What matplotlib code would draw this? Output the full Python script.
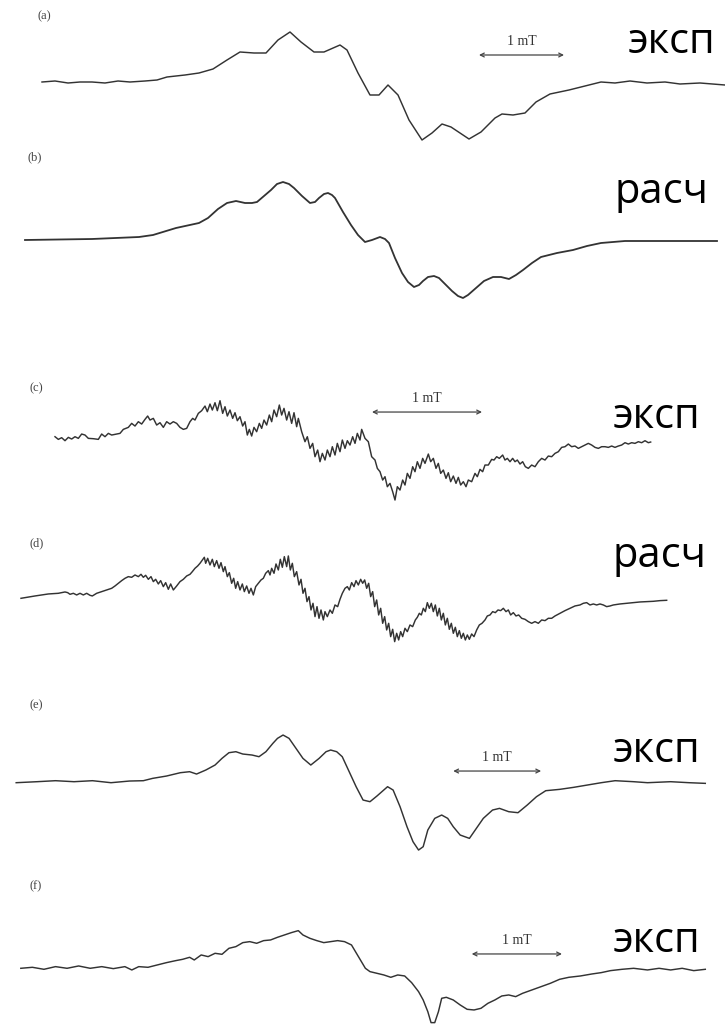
import numpy as np
import matplotlib.pyplot as plt

# EPR traces; field and signal in arbitrary units per panel
a_field = [42, 55, 68, 80, 92, 105, 118, 130, 145, 157, 167, 185, 199, 213, 227, 240, 254, 266,
           278, 290, 301, 314, 324, 340, 347, 358, 370, 379, 388, 398, 409, 422, 432, 442, 451,
           463, 469, 481, 495, 502, 513, 525, 536, 550, 569, 585, 601, 615, 630, 647, 665, 680,
           700, 725]
a_signal = [0, 1, -1, 0, 0, -1, 1, 0, 1, 2, 5, 7, 9, 13, 22, 30, 29, 29,
            42, 50, 40, 30, 30, 37, 32, 9, -13, -13, -3, -13, -38, -58, -51, -42, -45,
            -53, -57, -50, -36, -32, -33, -31, -20, -12, -8, -4, 0, -1, 1, -1, 0, -2,
            -1, -3]

b_field = [25, 92, 139, 153, 176, 199, 208, 218, 227, 236, 245, 252, 257, 264, 271, 277, 283,
           289, 294, 302, 310, 315, 319, 324, 328, 332, 335, 343, 351, 358, 365, 372, 380, 385,
           389, 395, 402, 408, 414, 419, 423, 428, 434, 439, 444, 452, 458, 463, 468, 476, 484,
           493, 501, 509, 516, 523, 532, 541, 557, 573, 587, 601, 625, 648, 680, 717]
b_signal = [0, 1, 3, 5, 12, 17, 22, 31, 37, 39, 37, 37, 38, 44, 50, 56, 58,
            56, 52, 44, 37, 38, 42, 46, 47, 45, 42, 28, 15, 5, -2, 0, 3, 1,
            -3, -18, -33, -42, -47, -45, -41, -37, -36, -38, -43, -51, -56, -58, -55, -48, -41,
            -37, -37, -39, -35, -30, -23, -17, -13, -10, -6, -3, -1, -1, -1, -1]

c_field = [165, 175, 185, 195, 205, 215, 225, 235, 245, 255, 265, 280, 295, 305, 315, 325, 335,
           350, 360, 370, 385, 395, 405, 415, 425, 435, 443, 450, 460, 470, 480, 490, 500, 510,
           520, 530, 540, 550, 560, 570, 578, 585, 595, 605, 615, 622, 630, 637, 645, 652, 660,
           668, 675, 682, 690, 698, 705, 712, 720, 728, 735, 742, 748, 755, 762, 770, 778, 785,
           792, 800, 808, 815, 822, 830, 838, 845, 852, 860, 867, 875, 882, 890, 895, 905, 915,
           922, 930, 938, 945, 953, 960, 967, 975, 982, 990, 997, 1005, 1012, 1020, 1027, 1035,
           1042, 1050, 1058, 1065, 1072, 1080, 1085, 1095, 1105, 1115, 1125, 1132, 1140, 1148,
           1155, 1162, 1170, 1178, 1185, 1192, 1200, 1208, 1215, 1222, 1230, 1238, 1245, 1252,
           1260, 1268, 1275, 1285, 1292, 1300, 1308, 1315, 1322, 1330, 1338, 1345, 1352, 1360,
           1368, 1375, 1382, 1390, 1398, 1405, 1415, 1425, 1432, 1440, 1448, 1455, 1465, 1475,
           1482, 1490, 1498, 1508, 1515, 1522, 1530, 1538, 1545, 1552, 1560, 1568, 1576, 1585,
           1595, 1605, 1615, 1625, 1635, 1645, 1655, 1665, 1675, 1685, 1695, 1705, 1715, 1725,
           1735, 1745, 1755, 1765, 1775, 1785, 1795, 1805, 1815, 1825, 1835, 1845, 1855, 1865,
           1875, 1885, 1895, 1905, 1915, 1925, 1935, 1945, 1952]
c_signal = [0, -8, -3, -12, -2, -7, 0, -5, 8, 5, -5, -6, -8, 8, 0, 10, 5,
            8, 10, 22, 28, 40, 32, 45, 38, 52, 62, 50, 55, 35, 42, 28, 45, 38,
            45, 40, 28, 22, 25, 45, 55, 50, 70, 78, 92, 75, 98, 80, 102, 78, 108,
            70, 90, 62, 80, 55, 72, 48, 60, 32, 45, 5, 22, 2, 28, 15, 40, 25,
            50, 35, 65, 45, 80, 60, 95, 65, 85, 50, 75, 40, 72, 30, 55, 15, -15,
            0, -35, -20, -60, -40, -75, -50, -70, -40, -60, -30, -55, -20, -45, -10, -35,
            -12, -25, 0, -20, 10, -10, 22, -5, -15, -60, -70, -95, -105, -130,
            -120, -150, -140, -165, -190, -150, -160, -130, -145, -110, -125, -90, -105, -75,
            -95, -65, -80, -52, -75, -65, -95, -80, -110, -100, -125, -108, -135, -118,
            -140, -122, -145, -135, -150, -130, -135, -110, -120, -98, -105, -85, -85, -68,
            -70, -60, -65, -55, -70, -65, -75, -65, -75, -70, -82, -75, -90, -95,
            -85, -90, -75, -65, -70, -58, -60, -50, -45, -32, -30, -22, -30, -28,
            -35, -30, -25, -20, -25, -32, -35, -30, -30, -32, -28, -32, -28, -25,
            -18, -22, -18, -20, -15, -18, -12, -18, -16]

d_field = [63, 105, 145, 175, 195, 203, 210, 220, 230, 240, 250, 260, 270, 277, 290, 305, 320,
           335, 345, 355, 365, 375, 385, 395, 405, 415, 423, 430, 437, 445, 453, 460, 467, 475,
           482, 490, 497, 505, 512, 520, 530, 540, 550, 560, 570, 577, 585, 593, 600, 607, 613,
           617, 623, 630, 637, 643, 650, 657, 663, 670, 675, 682, 688, 695, 701, 707, 713, 720,
           727, 733, 740, 747, 753, 760, 767, 775, 783, 790, 797, 805, 810, 815, 822, 828, 835,
           841, 847, 853, 860, 865, 871, 877, 883, 890, 897, 903, 909, 915, 921, 927, 933, 939,
           945, 951, 957, 963, 970, 975, 982, 990, 997, 1005, 1013, 1020, 1027, 1035, 1042, 1048,
           1055, 1062, 1068, 1075, 1082, 1088, 1094, 1100, 1106, 1112, 1118, 1124, 1130, 1136,
           1142, 1148, 1154, 1160, 1166, 1172, 1178, 1184, 1190, 1196, 1202, 1208, 1215, 1222,
           1230, 1238, 1246, 1252, 1258, 1264, 1270, 1276, 1282, 1288, 1294, 1300, 1306, 1312,
           1318, 1324, 1330, 1336, 1342, 1348, 1354, 1360, 1366, 1372, 1378, 1384, 1390, 1396,
           1402, 1408, 1415, 1422, 1430, 1438, 1446, 1455, 1462, 1470, 1478, 1486, 1494, 1502,
           1510, 1518, 1525, 1532, 1540, 1548, 1556, 1565, 1575, 1585, 1595, 1605, 1615, 1625,
           1635, 1645, 1655, 1665, 1680, 1695, 1710, 1725, 1740, 1750, 1760, 1770, 1780, 1790,
           1800, 1810, 1820, 1830, 1840, 1860, 1880, 1900, 1920, 1940, 1960, 1980, 2000]
d_signal = [0, 7, 13, 15, 19, 17, 12, 15, 10, 15, 10, 15, 9, 7, 15, 20, 25,
            30, 37, 45, 53, 60, 65, 63, 70, 65, 72, 63, 69, 57, 65, 50, 57, 43,
            53, 35, 47, 27, 43, 25, 37, 50, 57, 67, 72, 80, 90, 97, 105, 115, 123,
            105, 120, 100, 117, 95, 113, 90, 107, 80, 95, 65, 77, 45, 60, 30, 50, 25,
            43, 20, 37, 15, 30, 10, 35, 45, 55, 60, 75, 83, 70, 90, 75, 103, 85,
            117, 93, 125, 95, 127, 85, 105, 65, 80, 40, 57, 15, 30, -10, 5, -35, -15,
            -55, -25, -60, -35, -65, -40, -55, -35, -45, -20, -25, -3, 15, 30, 35, 25,
            47, 35, 53, 40, 57, 45, 55, 30, 45, 5, 20, -25, -5, -50,
            -30, -75, -55, -95, -75, -115, -93, -130, -105, -125, -100, -115, -90, -100,
            -80, -85, -65, -57, -45, -50, -30, -40, -13, -30, -15, -40, -20, -53,
            -30, -65, -45, -80, -60, -93, -75, -105, -87, -115, -97, -120, -105, -125,
            -110, -123, -107, -115, -95, -80, -75, -65, -53, -50, -40, -43, -35, -37,
            -30, -40, -35, -50, -43, -53, -50, -60, -63, -70, -75, -70, -75, -65,
            -67, -60, -60, -53, -45, -37, -30, -23, -20, -15, -13, -20, -17, -20,
            -17, -20, -25, -23, -20, -17, -15, -13, -11, -10, -9, -7, -6]

e_field = [35, 80, 120, 160, 200, 240, 280, 310, 330, 360, 390, 410, 425, 445, 465, 480, 495,
           510, 525, 545, 560, 575, 590, 600, 612, 625, 640, 655, 672, 690, 705, 715, 728, 740,
           755, 770, 785, 800, 815, 838, 850, 865, 880, 893, 905, 915, 925, 940, 955, 968, 980,
           995, 1015, 1025, 1045, 1065, 1080, 1100, 1120, 1140, 1160, 1180, 1210, 1240, 1270,
           1300, 1330, 1370, 1400, 1450, 1490, 1525]
e_signal = [-3, 0, 3, 0, 3, -3, 2, 3, 10, 17, 27, 30, 23, 35, 50, 70, 87,
            90, 83, 80, 75, 90, 115, 130, 140, 130, 100, 70, 50, 70, 90, 95, 90, 75,
            30, -15, -55, -60, -43, -15, -25, -75, -135, -180, -205, -195, -145, -110, -100, -110, -135,
            -160, -170, -150, -110, -85, -80, -90, -93, -70, -45, -27, -23, -17, -10,
            -3, 3, 0, -3, 0, -3, -5]

f_field = [45, 70, 95, 120, 145, 170, 195, 220, 245, 270, 285, 300, 320, 340, 360, 380, 395,
           410, 420, 435, 450, 465, 480, 495, 510, 525, 540, 555, 570, 585, 600, 615, 630, 645,
           655, 670, 685, 700, 715, 730, 745, 760, 775, 790, 800, 815, 830, 845, 860, 875, 890,
           905, 915, 925, 932, 940, 948, 955, 965, 980, 995, 1010, 1025, 1040, 1055, 1070, 1085,
           1100, 1115, 1130, 1150, 1170, 1190, 1210, 1230, 1255, 1280, 1300, 1320, 1345, 1370,
           1400, 1425, 1450, 1475, 1500, 1525]
f_signal = [0, 3, -3, 5, 0, 7, 0, 5, -1, 5, -5, 5, 3, 10, 17, 23, 27,
            33, 25, 40, 35, 45, 42, 60, 65, 77, 80, 75, 83, 85, 93, 100, 107, 113,
            100, 90, 83, 77, 80, 83, 80, 70, 35, 0, -10, -15, -20, -27, -20, -23, -43,
            -70, -95, -130, -163, -163, -130, -90, -87, -95, -110, -123, -125, -120, -105, -95, -83,
            -80, -85, -75, -65, -55, -45, -33, -27, -23, -17, -13, -7, -3, 0,
            -5, 0, -5, 0, -7, -3]

panel_letters = ["(a)", "(b)", "(c)", "(d)", "(e)", "(f)"]
kind_labels = ["эксп", "расч", "эксп", "расч", "эксп", "эксп"]
scale_text = "1 mT"

W, H = 725, 1024
fig = plt.figure(figsize=(W / 100, H / 100), dpi=100)
fig.patch.set_facecolor("white")

# (top row, bottom row, x range, baseline row, signal units per pixel)
layout = [
    (0, 170, 725, 82, 1),
    (150, 330, 725, 240, 1),
    (360, 520, 2175, 436.7, 3),
    (520, 680, 2175, 598.3, 3),
    (690, 870, 1567.6, 781.7, 3),
    (860, 1024, 1567.6, 968.3, 3),
]
traces = [(a_field, a_signal), (b_field, b_signal), (c_field, c_signal),
          (d_field, d_signal), (e_field, e_signal), (f_field, f_signal)]
# scale bar (start, end, level) in each panel's units; None where absent
bars = [(479, 564, 27), None, (1116, 1446, 74), None, (980, 1170, 32), (1020, 1215, 43)]
letter_pos = [(37, 16), (28, 157), (30, 388), (30, 543), (30, 705), (30, 886)]
kind_pos = [(628, 53), (615, 203), (613, 428), (613, 567), (613, 762), (613, 952)]

for i, (top, bottom, xmax, base, k) in enumerate(layout):
    ax = fig.add_axes([0, 1 - bottom / H, 1, (bottom - top) / H])
    ax.set_xlim(0, xmax)
    ax.set_ylim(k * (base - bottom), k * (base - top))
    ax.patch.set_alpha(0)
    ax.axis("off")
    x, y = traces[i]
    lw = 1.3 if i == 1 else 1.05
    ax.plot(x, y, color="#333333", lw=lw, clip_on=False, solid_joinstyle="round")
    if bars[i] is not None:
        x0, x1, lev = bars[i]
        ax.annotate("", xy=(x0, lev), xytext=(x1, lev),
                    arrowprops=dict(arrowstyle="<->", color="#444444", lw=0.9,
                                    shrinkA=0, shrinkB=0, mutation_scale=7))
        ax.annotate(scale_text, xy=((x0 + x1) / 2, lev), xytext=(0, 7.5),
                    textcoords="offset points", ha="center", va="baseline",
                    fontsize=10, family="Liberation Serif", color="#333333")

for lab, (px, py) in zip(panel_letters, letter_pos):
    fig.text(px / W, 1 - py / H, lab, fontsize=9, family="Liberation Serif",
             color="#444444", ha="left", va="center")

for lab, (px, py) in zip(kind_labels, kind_pos):
    fig.text(px / W, 1 - py / H, lab, fontsize=30, family=["Open Sans", "DejaVu Sans"],
             color="black", ha="left", va="baseline")

fig.savefig("out.png", dpi=100, facecolor="white")
